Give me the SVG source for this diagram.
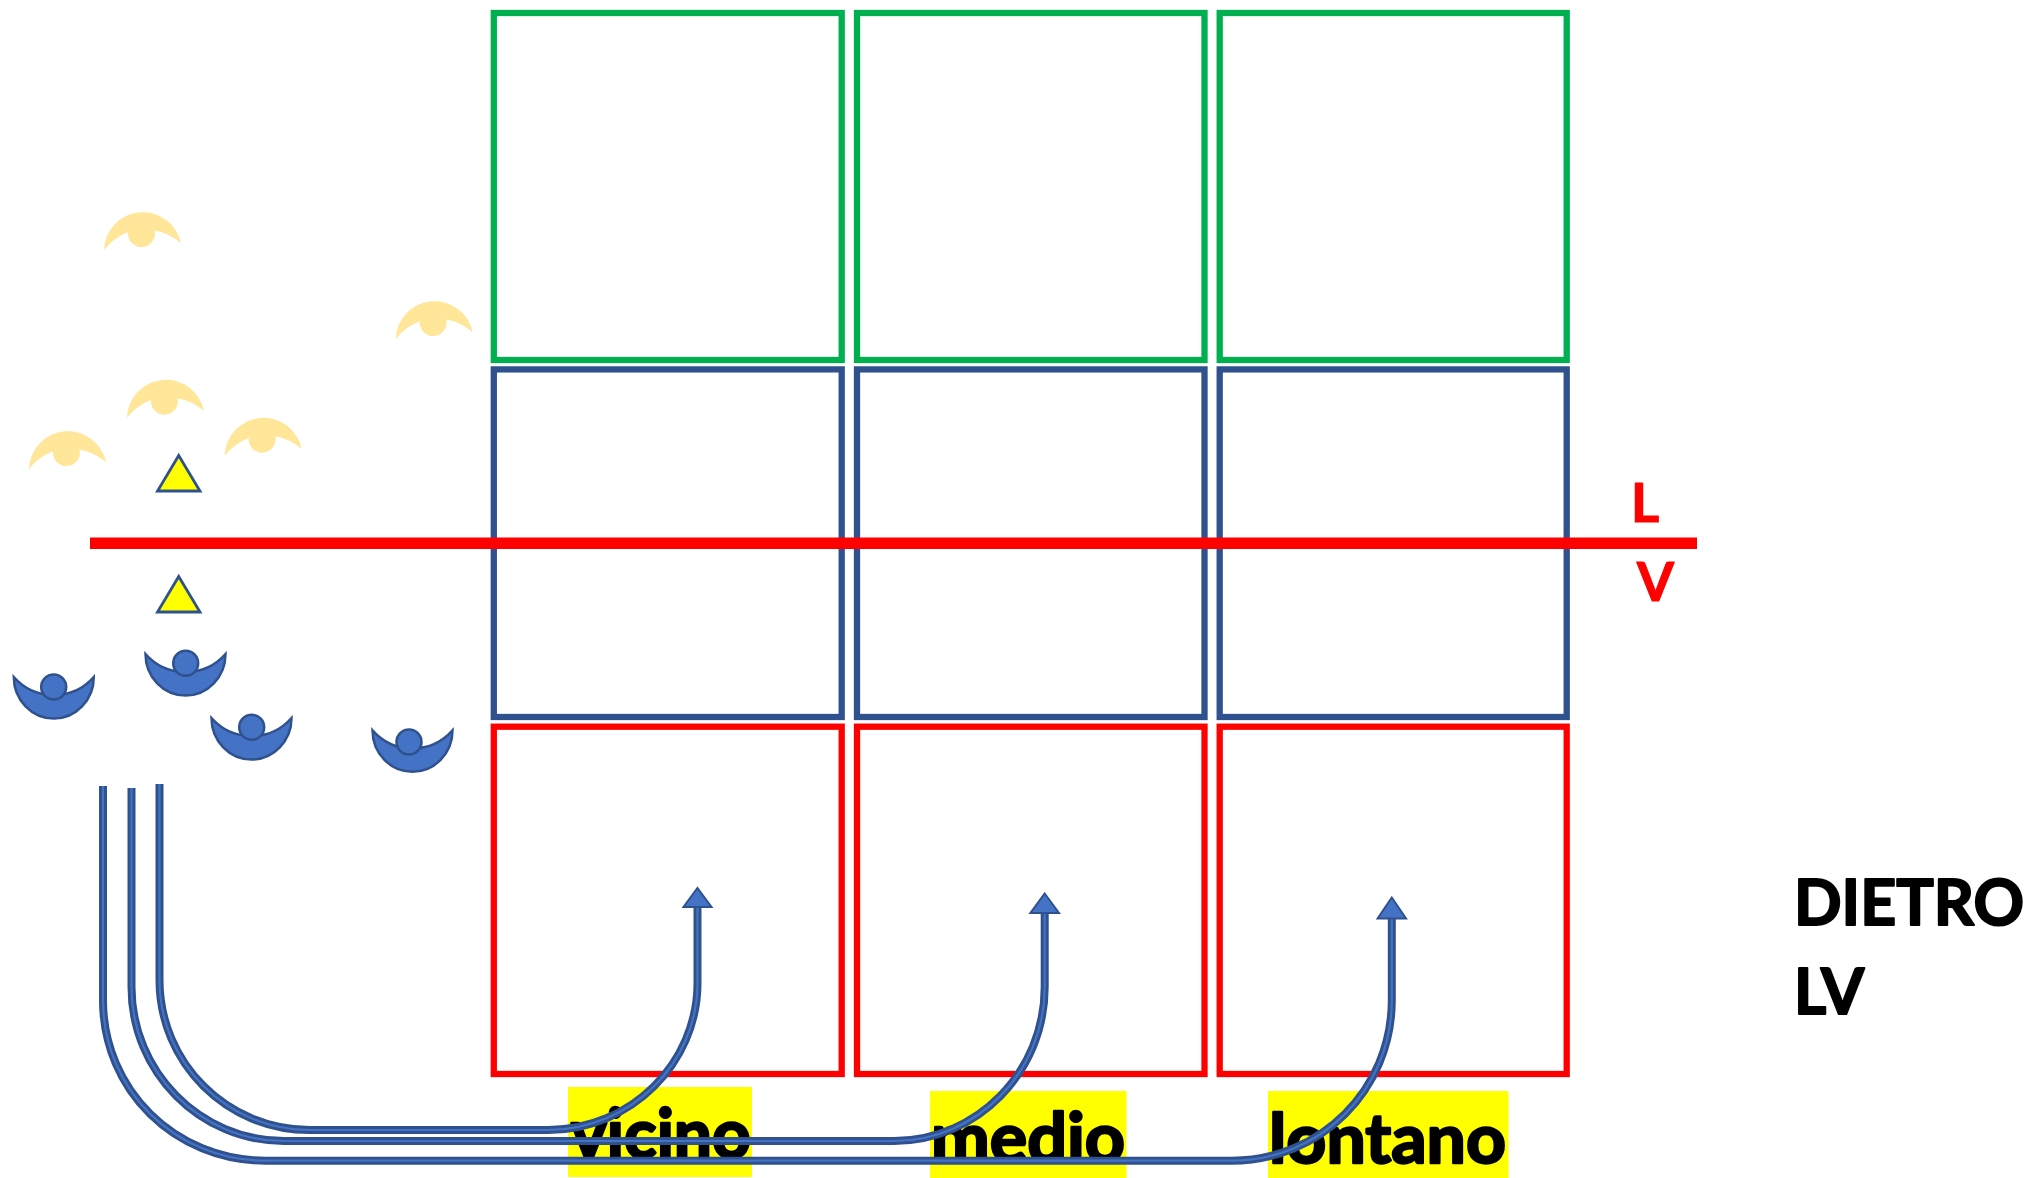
<svg xmlns="http://www.w3.org/2000/svg" width="2028" height="1178" viewBox="0 0 2028 1178">
<style>
text{font-family:"Lato","Liberation Sans",sans-serif;font-weight:700;stroke-linejoin:round}
.cell{fill:none;stroke-width:6.3}
.g{stroke:#00B050}.b{stroke:#2F528F}.r{stroke:#FF0000}
.peach{fill:#FFE699}
.blue{fill:#4472C4;stroke:#2F528F;stroke-width:2.5}
.tri{fill:#FFFF00;stroke:#2F528F;stroke-width:2.8}
.hl{fill:#FFFF00}
.lab{font-size:68px;fill:#000;stroke:#000;stroke-width:2.4}
.big{font-size:64px;fill:#000;stroke:#000;stroke-width:2}
.red{font-size:54px;fill:#FF0000;stroke:#FF0000;stroke-width:1.2}
.wire{fill:none;stroke-linejoin:round}
.wo{stroke:#2F528F;stroke-width:8}
.wi{stroke:#4472C4;stroke-width:2.2}
.head{fill:#4472C4;stroke:#2F528F;stroke-width:2}
</style>
<defs>
<g id="up"><path class="peach" d="M-37.3 16.7A38.9 38.9 0 0 1 39.7 10A54 54 0 0 0 13.3 -2.8A13.5 13.5 0 1 1 -13.3 -1A54 54 0 0 0 -37.3 16.7Z"/></g>
<path id="low" class="blue" d="M-40 2A40 41.5 0 0 0 40 2A53.4 53.4 0 0 1 -40 2Z"/>
</defs>
<g id="grid">
<rect id="c1" class="cell g" x="493.8" y="13" width="347.9" height="347"/>
<rect id="c2" class="cell g" x="857" y="13" width="347.5" height="347"/>
<rect id="c3" class="cell g" x="1219.7" y="13" width="347" height="347"/>
<rect id="c4" class="cell b" x="493.8" y="369.4" width="347.9" height="347.6"/>
<rect id="c5" class="cell b" x="857" y="369.4" width="347.5" height="347.6"/>
<rect id="c6" class="cell b" x="1219.7" y="369.4" width="347" height="347.6"/>
<rect id="c7" class="cell r" x="493.8" y="726.7" width="347.9" height="347.3"/>
<rect id="c8" class="cell r" x="857" y="726.7" width="347.5" height="347.3"/>
<rect id="c9" class="cell r" x="1219.7" y="726.7" width="347" height="347.3"/>
</g>
<rect id="divider" x="90" y="537.5" width="1607" height="11.5" fill="#FF0000"/>
<g id="lab-L"><text class="red" x="1631" y="522">L</text></g>
<g id="lab-V"><text class="red" x="1637" y="601" textLength="37" lengthAdjust="spacingAndGlyphs">V</text></g>
<g id="lab-dietro"><text class="big" x="1794" y="925" textLength="230" lengthAdjust="spacingAndGlyphs">DIETRO</text><text class="big" x="1794" y="1014" textLength="70" lengthAdjust="spacingAndGlyphs">LV</text></g>
<g id="people-up">
<use id="u1" href="#up" x="141.3" y="233.3"/>
<use id="u2" href="#up" x="433" y="322.3"/>
<use id="u3" href="#up" x="164.3" y="401"/>
<use id="u4" href="#up" x="66.3" y="452.3"/>
<use id="u5" href="#up" x="262" y="439"/>
</g>
<polygon id="tri-up" class="tri" points="178.7,455.5 157.5,491 200,491"/>
<polygon id="tri-low" class="tri" points="178.7,576.5 157.5,612 200,612"/>
<g id="people-low">
<g id="p1"><use href="#low" x="53.8" y="675"/><circle class="blue" cx="53.7" cy="687" r="12.5"/></g>
<g id="p2"><use href="#low" x="185.5" y="652"/><circle class="blue" cx="185.7" cy="663.3" r="12.5"/></g>
<g id="p3"><use href="#low" x="251.5" y="716"/><circle class="blue" cx="251.7" cy="727.3" r="12.5"/></g>
<g id="p4"><use href="#low" x="412.5" y="728.3"/><circle class="blue" cx="409" cy="742" r="12.5"/></g>
</g>
<g id="labels">
<g id="vicino"><rect class="hl" x="568" y="1087" width="184" height="90"/><text class="lab" x="571" y="1158" textLength="180" lengthAdjust="spacingAndGlyphs">vicino</text></g>
<g id="medio"><rect class="hl" x="930" y="1091" width="196.5" height="87"/><text class="lab" x="931" y="1162" textLength="194" lengthAdjust="spacingAndGlyphs">medio</text></g>
<g id="lontano"><rect class="hl" x="1268" y="1091" width="240.5" height="87"/><text class="lab" x="1269" y="1163" textLength="237" lengthAdjust="spacingAndGlyphs">lontano</text></g>
</g>
<g id="connectors">
<g id="w1">
<path class="wire wo" d="M103 786V1000C103 1090 175 1160.7 266 1160.7H1231.6C1320 1160.7 1391.8 1090 1391.8 1000V918"/>
<path class="wire wi" d="M103 786V1000C103 1090 175 1160.7 266 1160.7H1231.6C1320 1160.7 1391.8 1090 1391.8 1000V918"/>
<polygon class="head" points="1391.8,897.5 1406,918.5 1377.6,918.5"/>
</g>
<g id="w2">
<path class="wire wo" d="M131.5 788V987C131.5 1072 200 1141 284 1141H894C977 1141 1044.7 1072 1044.7 987V912"/>
<path class="wire wi" d="M131.5 788V987C131.5 1072 200 1141 284 1141H894C977 1141 1044.7 1072 1044.7 987V912"/>
<polygon class="head" points="1044.7,893.5 1059,913 1030.4,913"/>
</g>
<g id="w3">
<path class="wire wo" d="M159.5 784V980C159.5 1063 227 1130 309.6 1130H548C631 1130 697.5 1063 697.5 983V906"/>
<path class="wire wi" d="M159.5 784V980C159.5 1063 227 1130 309.6 1130H548C631 1130 697.5 1063 697.5 983V906"/>
<polygon class="head" points="697.5,888 711.5,907 683.5,907"/>
</g>
</g>
</svg>
